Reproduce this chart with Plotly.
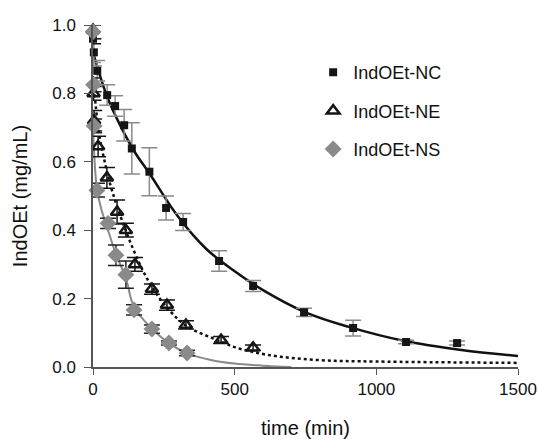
import plotly.graph_objects as go

# measured points (time in min, IndOEt in mg/mL)
nc_t = [0, 3, 15, 50, 78, 110, 137, 199, 258, 318, 445, 565, 745, 918, 1105, 1285]
nc_v = [0.96, 0.92, 0.866, 0.795, 0.763, 0.707, 0.639, 0.571, 0.465, 0.424, 0.31, 0.237, 0.16, 0.114, 0.073, 0.07]
nc_err = [0.07, 0.04, 0.03, 0.03, 0.03, 0.046, 0.075, 0.07, 0.035, 0.025, 0.03, 0.016, 0.012, 0.023, 0.005, 0.006]

ne_t = [0, 2, 4, 18, 49, 85, 116, 148, 208, 261, 328, 452, 565]
ne_v = [0.985, 0.80, 0.72, 0.645, 0.553, 0.453, 0.40, 0.30, 0.228, 0.181, 0.123, 0.079, 0.056]
ne_err = [0.04, 0.02, 0.03, 0.03, 0.03, 0.035, 0.02, 0.02, 0.015, 0.015, 0.012, 0.01, 0.008]

ns_t = [0, 2, 4, 14, 53, 81, 116, 145, 208, 268, 332]
ns_v = [0.98, 0.825, 0.705, 0.517, 0.42, 0.327, 0.27, 0.167, 0.111, 0.07, 0.041]
ns_err = [0.02, 0.02, 0.02, 0.02, 0.015, 0.03, 0.04, 0.015, 0.012, 0.006, 0.008]

# fitted curves
nc_fit_t = [0, 50, 100, 150, 200, 300, 400, 500, 600, 750, 900, 1100, 1300, 1500]
nc_fit_v = [0.92, 0.79, 0.70, 0.625, 0.565, 0.44, 0.345, 0.28, 0.225, 0.16, 0.118, 0.076, 0.05, 0.032]

ne_fit_t = [0, 20, 40, 70, 140, 200, 260, 330, 450, 500, 620, 800, 1000, 1500]
ne_fit_v = [0.85, 0.69, 0.605, 0.508, 0.348, 0.245, 0.175, 0.12, 0.075, 0.058, 0.035, 0.02, 0.016, 0.012]

ns_fit_t = [0, 14, 30, 53, 81, 116, 145, 208, 268, 332, 420, 500, 600, 700]
ns_fit_v = [0.70, 0.52, 0.46, 0.40, 0.33, 0.26, 0.175, 0.112, 0.07, 0.04, 0.02, 0.01, 0.004, 0.0]

font = "Liberation Sans, Arial, sans-serif"

fig = go.Figure()

# fit lines
fig.add_trace(go.Scatter(x=nc_fit_t, y=nc_fit_v, mode="lines", line=dict(color="#111", width=2.5, shape="spline"),
                         showlegend=False, cliponaxis=False))
fig.add_trace(go.Scatter(x=ne_fit_t, y=ne_fit_v, mode="lines", line=dict(color="#111", width=2.5, dash="dot", shape="spline"),
                         showlegend=False, cliponaxis=False))
fig.add_trace(go.Scatter(x=ns_fit_t, y=ns_fit_v, mode="lines", line=dict(color="#8a8a8a", width=2, shape="spline"),
                         showlegend=False, cliponaxis=False))

# data
fig.add_trace(go.Scatter(x=nc_t, y=nc_v, mode="markers", name="IndOEt-NC", legendgroup="a",
                         marker=dict(symbol="square", size=8, color="#151515"),
                         error_y=dict(type="data", array=nc_err, color="#8a8a8a", thickness=1.5, width=8),
                         cliponaxis=False))
fig.add_trace(go.Scatter(x=ne_t, y=ne_v, mode="markers", name="IndOEt-NE", legendgroup="b",
                         marker=dict(symbol="triangle-up-open", size=11, color="#151515", line=dict(width=2.5)),
                         error_y=dict(type="data", array=ne_err, color="#151515", thickness=1.5, width=8),
                         cliponaxis=False))
fig.add_trace(go.Scatter(x=ns_t, y=ns_v, mode="markers", name="IndOEt-NS", legendgroup="c",
                         marker=dict(symbol="diamond", size=13, color="#8a8a8a"),
                         error_y=dict(type="data", array=ns_err, color="#222", thickness=1.5, width=8),
                         cliponaxis=False))

fig.update_layout(
    width=538, height=439,
    margin=dict(l=93, r=20, t=25, b=72),
    plot_bgcolor="white", paper_bgcolor="white",
    font=dict(family=font, size=17, color="#111"),
    legend=dict(x=0.518, y=0.915, xanchor="left", yanchor="top", traceorder="grouped",
                tracegroupgap=12, font=dict(size=18), bgcolor="rgba(0,0,0,0)"),
)
fig.update_xaxes(range=[0, 1500], tickvals=[0, 500, 1000, 1500], ticks="outside", ticklen=6,
                 tickcolor="#555", showline=True, linecolor="#555", linewidth=1.5, showgrid=False,
                 zeroline=False, automargin=False, ticklabeloverflow="allow",
                 title=dict(text="time (min)", font=dict(size=20), standoff=26))
fig.update_yaxes(range=[0, 1.0], tickvals=[0, 0.2, 0.4, 0.6, 0.8, 1.0], tickformat=".1f", ticks="outside",
                 ticklen=7, tickcolor="#555", showline=True, linecolor="#555", linewidth=1.5, showgrid=False,
                 zeroline=False, ticklabelstandoff=5, automargin=False,
                 title=dict(text="IndOEt (mg/mL)", font=dict(size=20), standoff=19))

# drop the default body margin so the figure fills the window
fig.write_html("out.html", config={"displayModeBar": False},
               post_script="document.body.style.margin='0';")
